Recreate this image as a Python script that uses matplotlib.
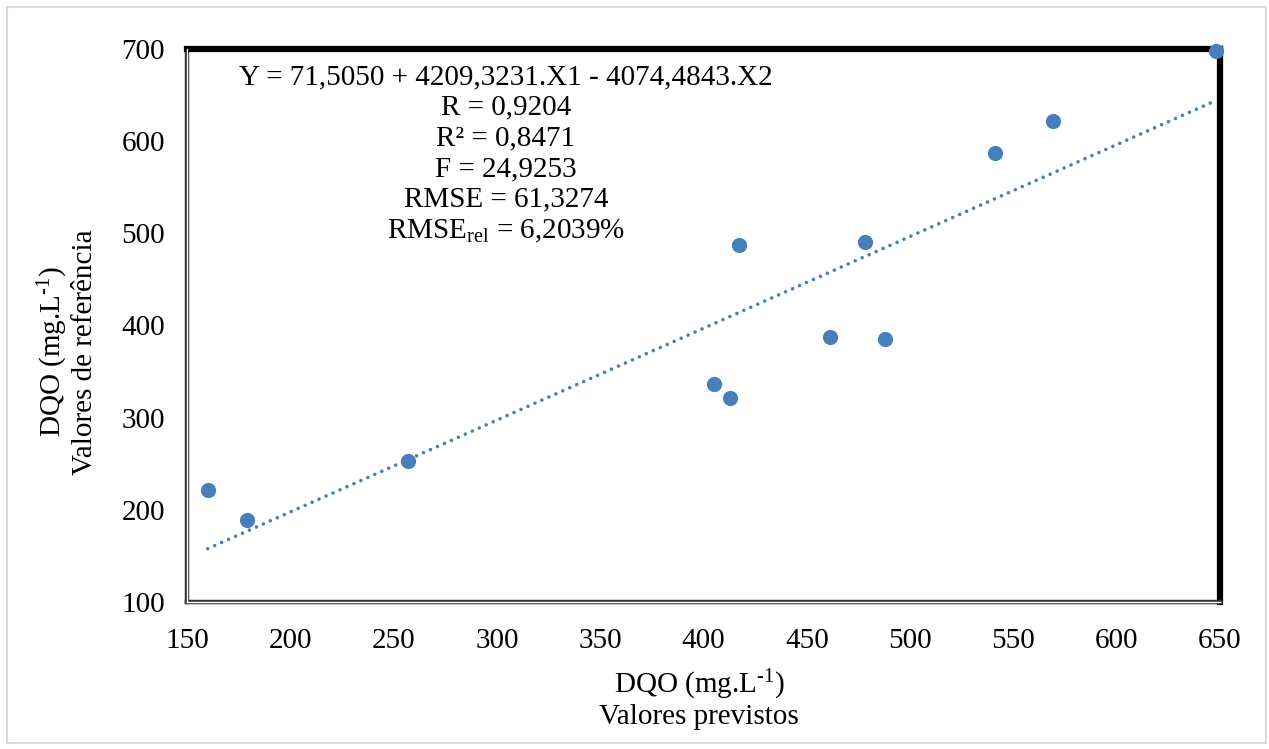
import numpy as np
import matplotlib
matplotlib.use("Agg")
import matplotlib.pyplot as plt
from matplotlib.lines import Line2D
from matplotlib.patches import Rectangle

plt.rcParams['font.family'] = ['Liberation Serif', 'DejaVu Serif']
plt.rcParams['mathtext.fontset'] = 'custom'
plt.rcParams['mathtext.rm'] = 'Liberation Serif'
plt.rcParams['mathtext.it'] = 'Liberation Serif:italic'

previstos = [160, 179, 257, 405, 413, 417, 461, 488, 478, 541, 569, 648]
referencia = [222, 189, 253, 337, 321, 487, 387, 385, 491, 587, 622, 698]
xticks = [150, 200, 250, 300, 350, 400, 450, 500, 550, 600, 650]
yticks = [100, 200, 300, 400, 500, 600, 700]
stats_lines = ["Y = 71,5050 + 4209,3231.X1 - 4074,4843.X2",
               "R = 0,9204",
               "R² = 0,8471",
               "F = 24,9253",
               "RMSE = 61,3274",
               r"RMSE$_{\mathrm{rel}}$ = 6,2039%"]

FS = 21
blue = '#4A7EBB'
W, H = 1269, 749
fig = plt.figure(figsize=(W/100, H/100), dpi=100)
ax = fig.add_axes([187/W, 1-602/H, (1220-187)/W, (602-49)/H])

x = np.array(previstos, float)
y = np.array(referencia, float)
ax.scatter(x, y, s=120, color=blue, zorder=3, clip_on=False, linewidths=0)
m, b = np.polyfit(x, y, 1)
xt = np.array([x.min(), x.max()])
ax.plot(xt, m*xt+b, color=blue, lw=2.6, linestyle=(0, (0.01, 2.1)),
        dash_capstyle='round', zorder=2)

ax.set_xlim(150, 650)
ax.set_ylim(100, 700)
ax.set_xticks(xticks)
ax.set_yticks(yticks)
ax.tick_params(length=0, labelsize=FS)
ax.tick_params(axis='x', pad=18.5)
ax.tick_params(axis='y', pad=16)

for s in ['top', 'right']:
    ax.spines[s].set_linewidth(4.5)
    ax.spines[s].set_color('black')
for s in ['left', 'bottom']:
    ax.spines[s].set_linewidth(3.2)
    ax.spines[s].set_color('#333333')
# inner white line for double-line effect
ax.add_line(Line2D([0, 0], [0, 1], transform=ax.transAxes, color='white',
                   lw=1.0, clip_on=False, zorder=5))
ax.add_line(Line2D([0, 1], [0, 0], transform=ax.transAxes, color='white',
                   lw=1.0, clip_on=False, zorder=5))

ax.set_xlabel(r"DQO (mg.L$^{\text{-1}}$)" + "\nValores previstos", fontsize=FS,
              linespacing=1.1)
ax.set_ylabel(r"DQO (mg.L$^{\text{-1}}$)" + "\nValores de referência", fontsize=FS,
              linespacing=1.1)
ax.xaxis.set_label_coords((699-187)/1033, (602-668)/553)
ax.yaxis.set_label_coords((36-187)/1033, 1-(352-49)/553)
ax.yaxis.label.set_va('top')

fig.text(506/W, 1-64/H, "\n".join(stats_lines), ha='center', va='top',
         multialignment='center', fontsize=FS, linespacing=1.235)

fig.add_artist(Rectangle((7/W, 6/H), (1266-7)/W, (742-6)/H, transform=fig.transFigure,
                         fill=False, edgecolor='#D9D9D9', lw=1.5))
fig.savefig("out.png", dpi=100)
